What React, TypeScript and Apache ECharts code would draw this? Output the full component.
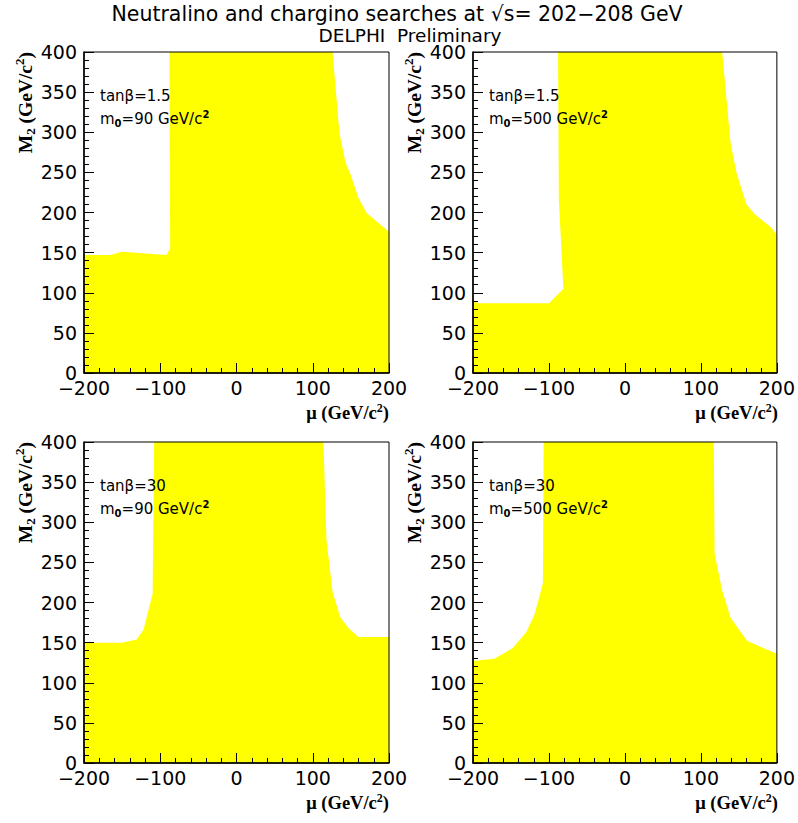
import React, { useEffect, useRef } from "react";
import * as echarts from "echarts";

// Panel 1: tanβ=1.5, m0=90
const p1Mu = [-200, -200, -166, -150, -92, -87, -88, 126, 135, 143, 149, 160, 171, 200, 200];
const p1M2 = [0, 147, 147, 151, 147, 155, 400, 400, 299, 262, 249, 218, 199, 176, 0];
// Panel 2: tanβ=1.5, m0=500
const p2Mu = [-200, -200, -193, -100, -81, -87, -88, 128, 139, 147, 160, 172, 193, 200, 200];
const p2M2 = [0, 90, 87, 87, 105, 216, 400, 400, 287, 249, 210, 197, 181, 172, 0];
// Panel 3: tanβ=30, m0=90
const p3Mu = [-200, -200, -150, -131, -122, -110, -108, 114, 118, 126, 136, 147, 160, 200, 200];
const p3M2 = [0, 150, 150, 154, 166, 211, 400, 400, 278, 213, 182, 168, 157, 157, 0];
// Panel 4: tanβ=30, m0=500
const p4Mu = [-200, -200, -172, -148, -130, -119, -108, -107, 117, 118, 128, 139, 161, 200, 200];
const p4M2 = [0, 127, 130, 143, 163, 185, 224, 400, 400, 261, 215, 181, 152, 136, 0];

const tanBetaLabels = ["1.5", "1.5", "30", "30"];
const m0Labels = ["90", "500", "90", "500"];
const xTicks = { min: -200, max: 200, step: 100 };
const yTicks = { min: 0, max: 400, step: 50 };

const panels = [
  { mu: p1Mu, m2: p1M2 },
  { mu: p2Mu, m2: p2M2 },
  { mu: p3Mu, m2: p3M2 },
  { mu: p4Mu, m2: p4M2 },
];

const gridPos = [
  { left: 84, top: 52 },
  { left: 473, top: 52 },
  { left: 84, top: 442 },
  { left: 473, top: 442 },
];
const GW = 305;
const GH = 321;

const SANS = "DejaVu Sans";
const SERIF = "Liberation Serif";

export default function App() {
  const ref = useRef<HTMLDivElement>(null);
  useEffect(() => {
    if (!ref.current) return;
    const chart = echarts.init(ref.current, null, { renderer: "svg" });

    const grid = gridPos.map((g) => ({
      left: g.left,
      top: g.top,
      width: GW,
      height: GH,
      show: true,
      borderColor: "#000",
      borderWidth: 1,
      backgroundColor: "transparent",
      z: 3,
    }));

    const common = (i: number) => ({
      gridIndex: i,
      type: "value" as const,
      z: 4,
      axisLine: { show: true, onZero: false, lineStyle: { color: "#000", width: 1.5 } },
      axisTick: { show: true, inside: true, length: 10, lineStyle: { color: "#000", width: 1 } },
      minorTick: { show: true, splitNumber: 5, length: 5, lineStyle: { color: "#000", width: 1 } },
      splitLine: { show: false },
    });

    const xAxis = panels.map((_, i) => ({
      ...common(i),
      min: xTicks.min,
      max: xTicks.max,
      interval: xTicks.step,
      axisLabel: {
        color: "#000",
        fontFamily: SANS,
        fontSize: 19,
        lineHeight: 14,
        margin: 8,
        formatter: (v: number) => String(v).replace("-", "\u2212"),
      },
    }));

    const yAxis = panels.map((_, i) => ({
      ...common(i),
      min: yTicks.min,
      max: yTicks.max,
      interval: yTicks.step,
      axisLabel: {
        color: "#000",
        fontFamily: SANS,
        fontSize: 19,
        lineHeight: 14,
        margin: 7,
      },
    }));

    const series = panels.map((p, i) => ({
      type: "custom",
      xAxisIndex: i,
      yAxisIndex: i,
      z: 1,
      silent: true,
      data: p.mu.map((x, k) => [x, p.m2[k]]),
      renderItem: (params: any, api: any) => {
        if (params.dataIndex !== 0) return null;
        const pts = p.mu.map((x, k) => api.coord([x, p.m2[k]]));
        return {
          type: "polygon",
          shape: { points: pts },
          style: { fill: "#ffff00", stroke: "none" },
        };
      },
    }));

    const richTitle = {
      m: { fontFamily: SERIF, fontWeight: "bold", fontSize: 19.5, lineHeight: 24, verticalAlign: "middle", fill: "#000" },
      s: { fontFamily: SERIF, fontWeight: "bold", fontSize: 13, lineHeight: 13, verticalAlign: "bottom", fill: "#000" },
      p: { fontFamily: SERIF, fontWeight: "bold", fontSize: 13, lineHeight: 13, verticalAlign: "top", fill: "#000" },
    };
    const richTitleX = {
      m: { fontFamily: SERIF, fontWeight: "bold", fontSize: 18.5, lineHeight: 22, verticalAlign: "middle", fill: "#000" },
      p: { fontFamily: SERIF, fontWeight: "bold", fontSize: 12, lineHeight: 12, verticalAlign: "top", fill: "#000" },
    };
    const richAnn = {
      n: { fontFamily: SANS, fontSize: 15, lineHeight: 19, verticalAlign: "middle", fill: "#000" },
      s: { fontFamily: SANS, fontWeight: "bold", fontSize: 10, lineHeight: 10, verticalAlign: "bottom", fill: "#000" },
      p: { fontFamily: SANS, fontWeight: "bold", fontSize: 10, lineHeight: 10, verticalAlign: "top", fill: "#000" },
    };

    const graphics: any[] = [
      {
        type: "text",
        x: 397,
        y: 14,
        style: {
          text: "Neutralino and chargino searches at \u221As= 202\u2212208 GeV",
          fontFamily: SANS,
          fontSize: 20.5,
          lineHeight: 20,
          fill: "#000",
          align: "center",
          verticalAlign: "middle",
        },
      },
      {
        type: "text",
        x: 410,
        y: 35,
        style: {
          text: "DELPHI  Preliminary",
          fontFamily: SANS,
          fontSize: 18.5,
          lineHeight: 18,
          fill: "#000",
          align: "center",
          verticalAlign: "middle",
        },
      },
    ];

    gridPos.forEach((g, i) => {
      // y-axis title
      graphics.push({
        type: "text",
        x: g.left - 59,
        y: g.top,
        rotation: Math.PI / 2,
        style: {
          text: "{m|M}{s|2}{m| (GeV/c}{p|2}{m|)}",
          rich: richTitle,
          align: "right",
          verticalAlign: "middle",
        },
      });
      // x-axis title
      graphics.push({
        type: "text",
        x: g.left + GW,
        y: g.top + GH + 40,
        style: {
          text: "{m|\u03BC (GeV/c}{p|2}{m|)}",
          rich: richTitleX,
          align: "right",
          verticalAlign: "middle",
        },
      });
      // annotations
      graphics.push({
        type: "text",
        x: g.left + 16,
        y: g.top + 44,
        z: 10,
        style: {
          text: "tan\u03B2=" + tanBetaLabels[i],
          fontFamily: SANS,
          fontSize: 15,
          fill: "#000",
          align: "left",
          verticalAlign: "middle",
        },
      });
      graphics.push({
        type: "text",
        x: g.left + 16,
        y: g.top + 67,
        z: 10,
        style: {
          text: "{n|m}{s|0}{n|=" + m0Labels[i] + " GeV/c}{p|2}",
          rich: richAnn,
          align: "left",
          verticalAlign: "middle",
        },
      });
    });

    chart.setOption({
      animation: false,
      backgroundColor: "#fff",
      grid,
      xAxis,
      yAxis,
      series,
      graphic: { elements: graphics },
    });

    return () => chart.dispose();
  }, []);

  return (
    <div
      ref={ref}
      style={{ position: "fixed", left: 0, top: 0, width: 798, height: 823 }}
    />
  );
}
